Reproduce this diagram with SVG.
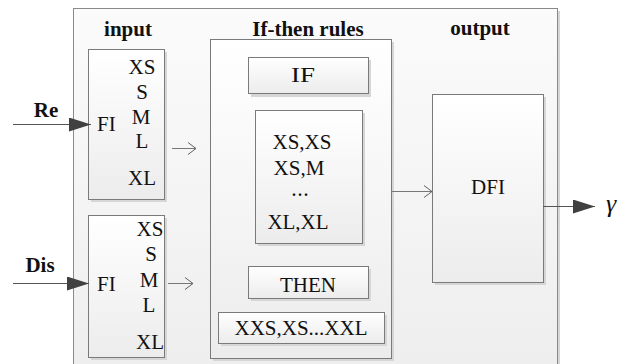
<svg xmlns="http://www.w3.org/2000/svg" width="639" height="364" viewBox="0 0 639 364">
<defs>
<linearGradient id="gBox" x1="0" y1="0" x2="0" y2="1">
<stop offset="0" stop-color="#ffffff"/>
<stop offset="1" stop-color="#ececec"/>
</linearGradient>
<linearGradient id="gOuter" x1="0" y1="0" x2="0" y2="1">
<stop offset="0" stop-color="#fbfbfb"/>
<stop offset="1" stop-color="#eeeeee"/>
</linearGradient>
<marker id="solid" viewBox="0 0 22 14" refX="22" refY="7" markerWidth="22" markerHeight="14" markerUnits="userSpaceOnUse" orient="auto">
<path d="M0,0 L22,7 L0,14 z" fill="#404040"/>
</marker>
<marker id="open" viewBox="0 0 10 14" refX="9" refY="7" markerWidth="10" markerHeight="14" markerUnits="userSpaceOnUse" orient="auto">
<path d="M1,1 L9,7 L1,13" fill="none" stroke="#606060" stroke-width="1"/>
</marker>
</defs>
<style>
.box{fill:url(#gBox);stroke:#7a7a7a;stroke-width:1}
.shadow{fill:#d6d6d6}
.outer{fill:url(#gOuter);stroke:#8a8a8a;stroke-width:1}
.c{text-anchor:middle}
.b{font-weight:bold}
.ln{stroke:#555;stroke-width:1;fill:none}
.ln2{stroke:#777;stroke-width:1;fill:none}
</style>
<rect x="0" y="0" width="639" height="364" fill="#ffffff"/>

<g id="outer">
<rect x="76" y="11" width="484" height="360" class="shadow"/>
<rect x="73.5" y="8.5" width="484" height="360" class="outer"/>
</g>

<g font-family="'Liberation Serif', 'Times New Roman', 'DejaVu Serif', serif" font-size="21" fill="#111">
<g id="titles">
<text x="128" y="36" class="b c">input</text>
<text x="308" y="36" class="b c">If-then rules</text>
<text x="480" y="35" class="b c">output</text>
</g>

<g id="input-re">
<rect x="91" y="52" width="76" height="150" class="shadow"/>
<rect x="88.5" y="49.5" width="76" height="150" class="box"/>
<text x="97" y="131">FI</text>
<text x="142" y="74" class="c">XS</text>
<text x="142" y="99" class="c">S</text>
<text x="141" y="124" class="c">M</text>
<text x="142" y="148" class="c">L</text>
<text x="142" y="185" class="c">XL</text>
</g>

<g id="input-dis">
<rect x="91" y="218" width="76" height="142" class="shadow"/>
<rect x="88.5" y="215.5" width="76" height="142" class="box"/>
<text x="97" y="291">FI</text>
<text x="150" y="236" class="c">XS</text>
<text x="151" y="261" class="c">S</text>
<text x="149" y="287" class="c">M</text>
<text x="149" y="312" class="c">L</text>
<text x="150" y="349" class="c">XL</text>
</g>

<g id="rules">
<rect x="213" y="42" width="181" height="319" class="shadow"/>
<rect x="210.5" y="39.5" width="181" height="319" class="box"/>
</g>

<g id="if">
<rect x="251" y="60" width="120" height="37" class="shadow"/>
<rect x="248.5" y="57.5" width="120" height="36" class="box"/>
<text x="303" y="82" class="c" textLength="24" lengthAdjust="spacingAndGlyphs">IF</text>
</g>

<g id="conditions">
<rect x="258" y="113" width="107" height="133" class="shadow"/>
<rect x="255.5" y="110.5" width="107" height="133" class="box"/>
<text x="302" y="149" class="c">XS,XS</text>
<text x="299" y="175" class="c">XS,M</text>
<text x="301" y="196" class="c b" font-size="16" letter-spacing="2">...</text>
<text x="298" y="229" class="c">XL,XL</text>
</g>

<g id="then">
<rect x="251" y="269" width="120" height="32" class="shadow"/>
<rect x="248.5" y="266.5" width="120" height="32" class="box"/>
<text x="308" y="292" class="c">THEN</text>
</g>

<g id="consequents">
<rect x="221" y="315" width="166" height="31" class="shadow"/>
<rect x="218.5" y="312.5" width="166" height="31" class="box"/>
<text x="301" y="335" class="c">XXS,XS...XXL</text>
</g>

<g id="dfi">
<rect x="435" y="97" width="111" height="188" class="shadow"/>
<rect x="432.5" y="94.5" width="111" height="188" class="box"/>
<text x="488" y="194" class="c">DFI</text>
</g>

<g id="labels">
<text x="46" y="117" class="b c">Re</text>
<text x="40" y="272" class="b c">Dis</text>
<text x="606" y="212" font-style="italic" font-size="26">γ</text>
</g>
</g>

<g id="connectors">
<line x1="13" y1="124.5" x2="91" y2="124.5" class="ln" marker-end="url(#solid)"/>
<line x1="13" y1="283.5" x2="89" y2="283.5" class="ln" marker-end="url(#solid)"/>
<line x1="172" y1="148.5" x2="196" y2="148.5" class="ln2" marker-end="url(#open)"/>
<line x1="168" y1="283.5" x2="193" y2="283.5" class="ln2" marker-end="url(#open)"/>
<line x1="391" y1="191.5" x2="432" y2="191.5" class="ln2" marker-end="url(#open)"/>
<line x1="543" y1="206.5" x2="595" y2="206.5" class="ln" marker-end="url(#solid)"/>
</g>
</svg>
